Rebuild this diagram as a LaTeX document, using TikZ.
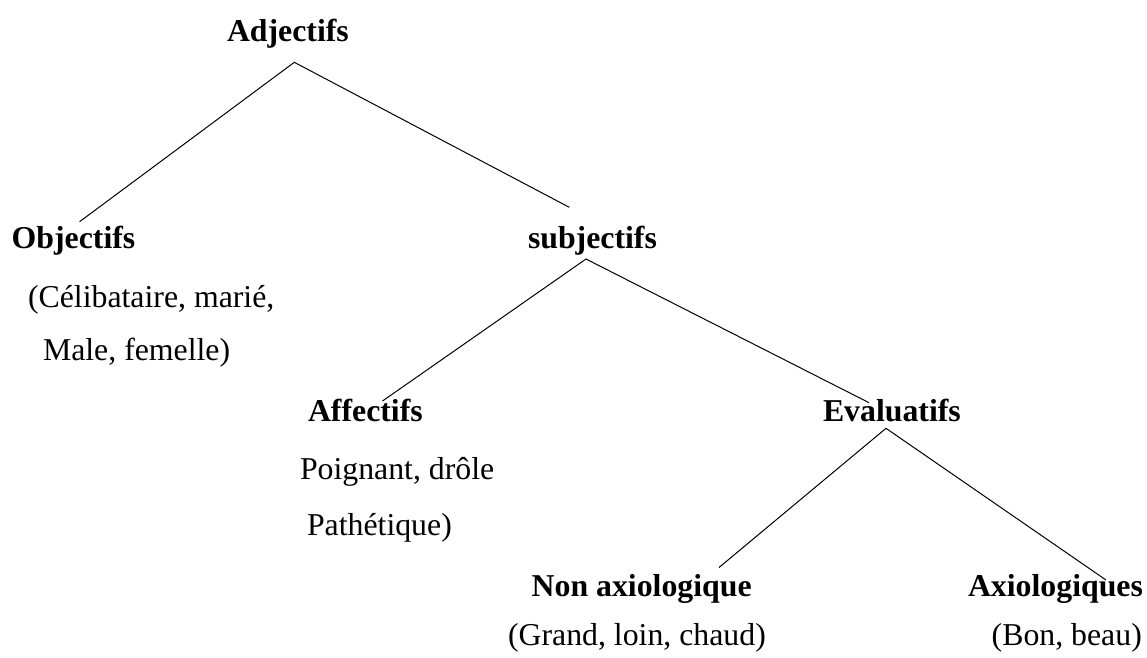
\documentclass[tikz,border=0pt]{standalone}
\usepackage{fontspec}
\setmainfont{Liberation Serif}
\tikzset{
  txt/.style={anchor=base west, inner sep=0pt, outer sep=0pt, font=\fontsize{31.8}{38}\selectfont},
  head/.style={txt, font=\fontsize{31.8}{38}\selectfont\bfseries},
  branch/.style={draw=black, line width=1pt}
}
\begin{document}
\begin{tikzpicture}[x=1pt,y=1pt]
\useasboundingbox (0,0) rectangle (1147,-657);
% headings
\node[head] (adj) at (227,-41.7) {Adjectifs};
\node[head] (obj) at (11.7,-248) {Objectifs};
\node[head] (subj) at (528,-248) {subjectifs};
\node[head] (aff) at (308,-421.7) {Affectifs};
\node[head] (eval) at (823,-421.7) {Evaluatifs};
\node[head] (nonax) at (531.7,-596.7) {Non axiologique};
\node[head] (ax) at (968,-596.7) {Axiologiques};
% examples
\node[txt] (obj1) at (28,-307) {(Célibataire, marié,};
\node[txt] (obj2) at (43,-360) {Male, femelle)};
\node[txt] (aff1) at (300,-479) {Poignant, drôle};
\node[txt] (aff2) at (307,-535) {Pathétique)};
\node[txt] (nonax1) at (508,-645) {(Grand, loin, chaud)};
\node[txt] (ax1) at (991.7,-645) {(Bon, beau)};
% connector points
\coordinate (adjTip) at (294.3,-62.3);
\coordinate (objEnd) at (79.6,-221.7);
\coordinate (subjEnd) at (569.3,-207.3);
\coordinate (subjTip) at (586,-259);
\coordinate (affEnd) at (382.5,-401);
\coordinate (evalEnd) at (869,-402.7);
\coordinate (evalTip) at (886,-428.3);
\coordinate (nonaxEnd) at (719,-567.5);
\coordinate (axEnd) at (1106,-580);
% connectors
\draw[branch] (objEnd) -- (adjTip) -- (subjEnd);
\draw[branch] (affEnd) -- (subjTip) -- (evalEnd);
\draw[branch] (nonaxEnd) -- (evalTip) -- (axEnd);
\end{tikzpicture}
\end{document}
